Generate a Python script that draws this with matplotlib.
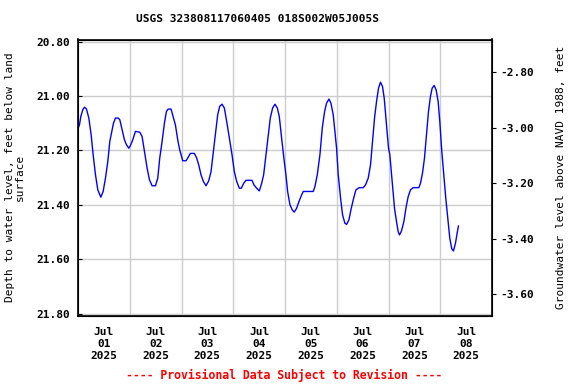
import pandas as pd
import matplotlib.pyplot as plt

# hours since 2025-07-01 00:00 and depth to water (ft below land surface)
hours = [0.08, 0.69, 1.31, 2.24, 3.01, 3.94, 5.02, 6.10, 7.03, 8.11, 9.19, 10.58,
         11.66, 12.74, 13.82, 14.75, 15.52, 16.45, 17.37, 18.61, 19.38, 20.46, 21.54,
         22.47, 23.55, 24.32, 25.40, 26.64, 28.65, 29.73, 30.81, 32.05, 33.13, 34.36,
         35.91, 36.99, 37.91, 39.00, 40.07, 41.00, 41.77, 43.16, 44.09, 45.17, 46.25,
         47.18, 47.80, 48.57, 50.11, 50.89, 52.12, 53.97, 55.05, 55.98, 57.06, 58.14,
         59.38, 60.61, 61.70, 62.78, 63.70, 64.78, 65.71, 66.79, 67.87, 68.95, 70.19,
         71.43, 72.51, 73.59, 74.82, 75.75, 76.83, 77.91, 80.69, 81.62, 82.85, 84.09,
         85.17, 86.09, 87.18, 88.26, 89.18, 90.26, 91.35, 92.43, 93.35, 94.43, 95.67,
         96.44, 97.21, 98.30, 99.38, 100.30, 101.39, 102.47, 103.70, 104.47, 109.11,
         109.88, 110.96, 112.20, 113.28, 114.36, 115.28, 116.37, 117.29, 118.37, 119.15,
         119.92, 120.69, 121.77, 122.70, 123.78, 124.55, 125.63, 126.56, 127.64, 128.88,
         130.42, 132.27, 133.35, 134.59, 135.67, 136.59, 137.52, 138.45, 139.37, 140.30,
         141.23, 142.00, 143.08, 144.01, 144.62, 145.71, 146.79, 147.72, 148.49, 149.11,
         150.03, 151.12, 152.20, 153.12, 154.20, 155.44, 158.06, 158.83, 159.76, 160.69,
         161.61, 162.54, 163.47, 164.24, 165.17, 166.09, 167.02, 167.79, 168.72, 169.64,
         170.57, 171.50, 172.42, 173.35, 174.12, 175.05, 175.82, 176.44]
depth = [21.118, 21.106, 21.075, 21.050, 21.041, 21.048, 21.081, 21.143, 21.216, 21.290,
         21.345, 21.372, 21.351, 21.302, 21.241, 21.167, 21.136, 21.100, 21.081, 21.081,
         21.087, 21.124, 21.161, 21.179, 21.192, 21.182, 21.161, 21.130, 21.133, 21.149,
         21.204, 21.265, 21.308, 21.330, 21.330, 21.302, 21.228, 21.167, 21.100, 21.057,
         21.048, 21.048, 21.075, 21.106, 21.161, 21.198, 21.216, 21.238, 21.238, 21.228,
         21.211, 21.211, 21.228, 21.253, 21.290, 21.314, 21.330, 21.312, 21.278, 21.204,
         21.143, 21.069, 21.038, 21.030, 21.044, 21.093, 21.155, 21.216, 21.278, 21.314,
         21.339, 21.339, 21.321, 21.310, 21.310, 21.327, 21.339, 21.349, 21.321, 21.290,
         21.216, 21.143, 21.081, 21.044, 21.030, 21.044, 21.075, 21.155, 21.241, 21.290,
         21.351, 21.400, 21.419, 21.427, 21.413, 21.388, 21.364, 21.351, 21.351, 21.333,
         21.290, 21.216, 21.118, 21.057, 21.026, 21.011, 21.026, 21.069, 21.130, 21.192,
         21.290, 21.376, 21.437, 21.468, 21.472, 21.456, 21.419, 21.382, 21.345, 21.337,
         21.337, 21.327, 21.302, 21.253, 21.167, 21.081, 21.020, 20.971, 20.949, 20.965,
         21.007, 21.106, 21.192, 21.216, 21.314, 21.413, 21.462, 21.499, 21.511, 21.496,
         21.462, 21.407, 21.370, 21.345, 21.337, 21.337, 21.321, 21.284, 21.228, 21.143,
         21.057, 21.001, 20.971, 20.961, 20.977, 21.020, 21.093, 21.204, 21.290, 21.376,
         21.449, 21.523, 21.562, 21.570, 21.542, 21.505, 21.478]

depth_ticks = [20.80, 21.00, 21.20, 21.40, 21.60, 21.80]
elev_ticks = [-2.80, -3.00, -3.20, -3.40, -3.60]
day_labels = ["Jul\n01\n2025", "Jul\n02\n2025", "Jul\n03\n2025", "Jul\n04\n2025",
              "Jul\n05\n2025", "Jul\n06\n2025", "Jul\n07\n2025", "Jul\n08\n2025"]

plt.rcParams["font.family"] = "DejaVu Sans Mono"
plt.rcParams["font.weight"] = "bold"
plt.rcParams["font.size"] = 8

start = pd.Timestamp("2025-07-01")
times = start + pd.to_timedelta(hours, unit="h")

fig = plt.figure(figsize=(5.76, 3.84), dpi=100)
ax = fig.add_axes([78 / 576, 1 - 315.7 / 384, 414 / 576, 276.2 / 384])

ax.plot(times, depth, color="#0000ff", linewidth=1)

ax.set_xlim(start, start + pd.Timedelta(days=8))
ax.set_ylim(21.808, 20.792)
ax.set_yticks(depth_ticks)
ax.set_yticklabels([f"{v:.2f}" for v in depth_ticks])
ax.tick_params(axis="y", direction="in", length=3, pad=6)

# day boundaries carry the grid, labels sit at noon
midnights = [start + pd.Timedelta(days=i) for i in range(1, 8)]
noons = [start + pd.Timedelta(days=i, hours=12) for i in range(8)]
ax.set_xticks(noons)
ax.set_xticklabels(day_labels, linespacing=1.25)
ax.set_xticks(midnights, minor=True)
ax.tick_params(axis="x", which="both", length=0, pad=8)
ax.grid(True, axis="y", color="#cccccc", linewidth=1)
ax.grid(True, axis="x", which="minor", color="#cccccc", linewidth=1)
ax.set_axisbelow(True)
for s in ax.spines.values():
    s.set_linewidth(1.2)

ax.set_ylabel("Depth to water level, feet below land\nsurface", labelpad=8,
              linespacing=1.0)

ax2 = ax.twinx()
ax2.set_ylim(-3.677, -2.682)
ax2.set_yticks(elev_ticks)
ax2.set_yticklabels([f"{v:.2f}" for v in elev_ticks])
ax2.tick_params(axis="y", direction="out", length=3, pad=3)
ax2.set_ylabel("Groundwater level above NAVD 1988, feet", labelpad=16)

fig.text(258 / 576, 1 - 19 / 384, "USGS 323808117060405 018S002W05J005S",
         ha="center", va="center")
fig.text(284 / 576, 1 - 375 / 384, "---- Provisional Data Subject to Revision ----",
         ha="center", va="center", color="red", fontsize=8.3)

fig.savefig("out.png", dpi=100)
